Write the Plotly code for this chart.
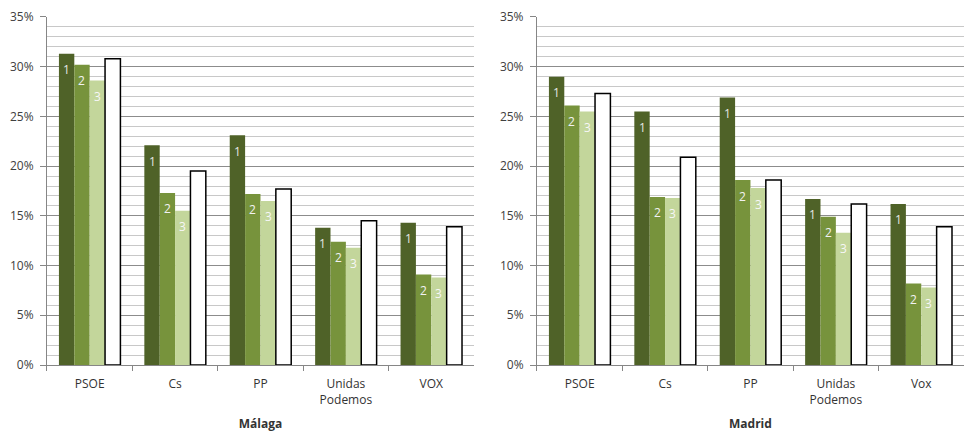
import plotly.graph_objects as go
from plotly.subplots import make_subplots

parties_malaga = ["PSOE", "Cs", "PP", "Unidas<br>Podemos", "VOX"]
parties_madrid = ["PSOE", "Cs", "PP", "Unidas<br>Podemos", "Vox"]

series_names = ["1", "2", "3", "total"]

malaga_1 = [0.313, 0.221, 0.231, 0.138, 0.143]
malaga_2 = [0.302, 0.173, 0.172, 0.124, 0.091]
malaga_3 = [0.286, 0.155, 0.165, 0.118, 0.088]
malaga_t = [0.308, 0.195, 0.177, 0.145, 0.139]

madrid_1 = [0.290, 0.255, 0.269, 0.167, 0.162]
madrid_2 = [0.261, 0.169, 0.186, 0.149, 0.082]
madrid_3 = [0.255, 0.168, 0.178, 0.133, 0.078]
madrid_t = [0.273, 0.209, 0.186, 0.162, 0.139]

colors = ["#4f6228", "#77933c", "#c3d69b", "#ffffff"]
label_colors = ["#e6e6e6", "#f2f2f2", "#f7f7f7"]

bargap = 0.28
font = "Open Sans"

fig = make_subplots(rows=1, cols=2, horizontal_spacing=0.05)

panels = [
    (parties_malaga, [malaga_1, malaga_2, malaga_3, malaga_t], 1, "Málaga"),
    (parties_madrid, [madrid_1, madrid_2, madrid_3, madrid_t], 2, "Madrid"),
]

bar_w = (1 - bargap) / len(series_names)
for cats, vals, col, title in panels:
    for k, name in enumerate(series_names):
        is_total = k == 3
        fig.add_trace(go.Bar(
            x=cats, y=vals[k], name=name,
            marker=dict(color=colors[k],
                        line=dict(color="#000000", width=1.5 if is_total else 0)),
            showlegend=False,
        ), row=1, col=col)
        if is_total:
            continue
        xref = "x" if col == 1 else "x2"
        yref = "y" if col == 1 else "y2"
        for i, v in enumerate(vals[k]):
            xpos = i - (1 - bargap) / 2 + bar_w * (k + 0.5)
            fig.add_annotation(x=xpos, y=v, xref=xref, yref=yref, text=name,
                               showarrow=False, yshift=-16,
                               font=dict(family=font, size=12, color=label_colors[k]))

# page has an 8px body margin, so the figure is 972x436 and domains are shifted
for col, dom in [(1, [0.0401, 0.4794]), (2, [0.5442, 0.9835])]:
    fig.update_xaxes(domain=dom, tickson="boundaries", ticks="outside", ticklen=5,
                     tickcolor="#868686", showline=True, linecolor="#868686",
                     linewidth=1, automargin=False, ticklabelstandoff=8,
                     tickfont=dict(family=font, size=12, color="#333333"),
                     title=dict(text="<b>" + panels[col - 1][3] + "</b>", standoff=12,
                                font=dict(family=font, size=12, color="#333333")),
                     row=1, col=col)
    fig.update_yaxes(domain=[0.1812, 0.9794], range=[0, 0.35], dtick=0.05,
                     tickformat=".0%", ticks="outside", ticklen=6, tickcolor="#868686",
                     showline=True, linecolor="#868686", linewidth=1, automargin=False,
                     ticklabelstandoff=4, ticklabeloverflow="allow",
                     showgrid=True, gridcolor="#8c8c8c", gridwidth=1,
                     minor=dict(dtick=0.01, showgrid=True, gridcolor="#c8c8c8", gridwidth=1),
                     tickfont=dict(family=font, size=12, color="#404040"),
                     zeroline=False, row=1, col=col)

fig.update_layout(
    width=972, height=436,
    margin=dict(l=0, r=0, t=0, b=0),
    barmode="group", bargap=bargap, bargroupgap=0,
    plot_bgcolor="#ffffff", paper_bgcolor="#ffffff",
)

fig.write_html("out.html")
